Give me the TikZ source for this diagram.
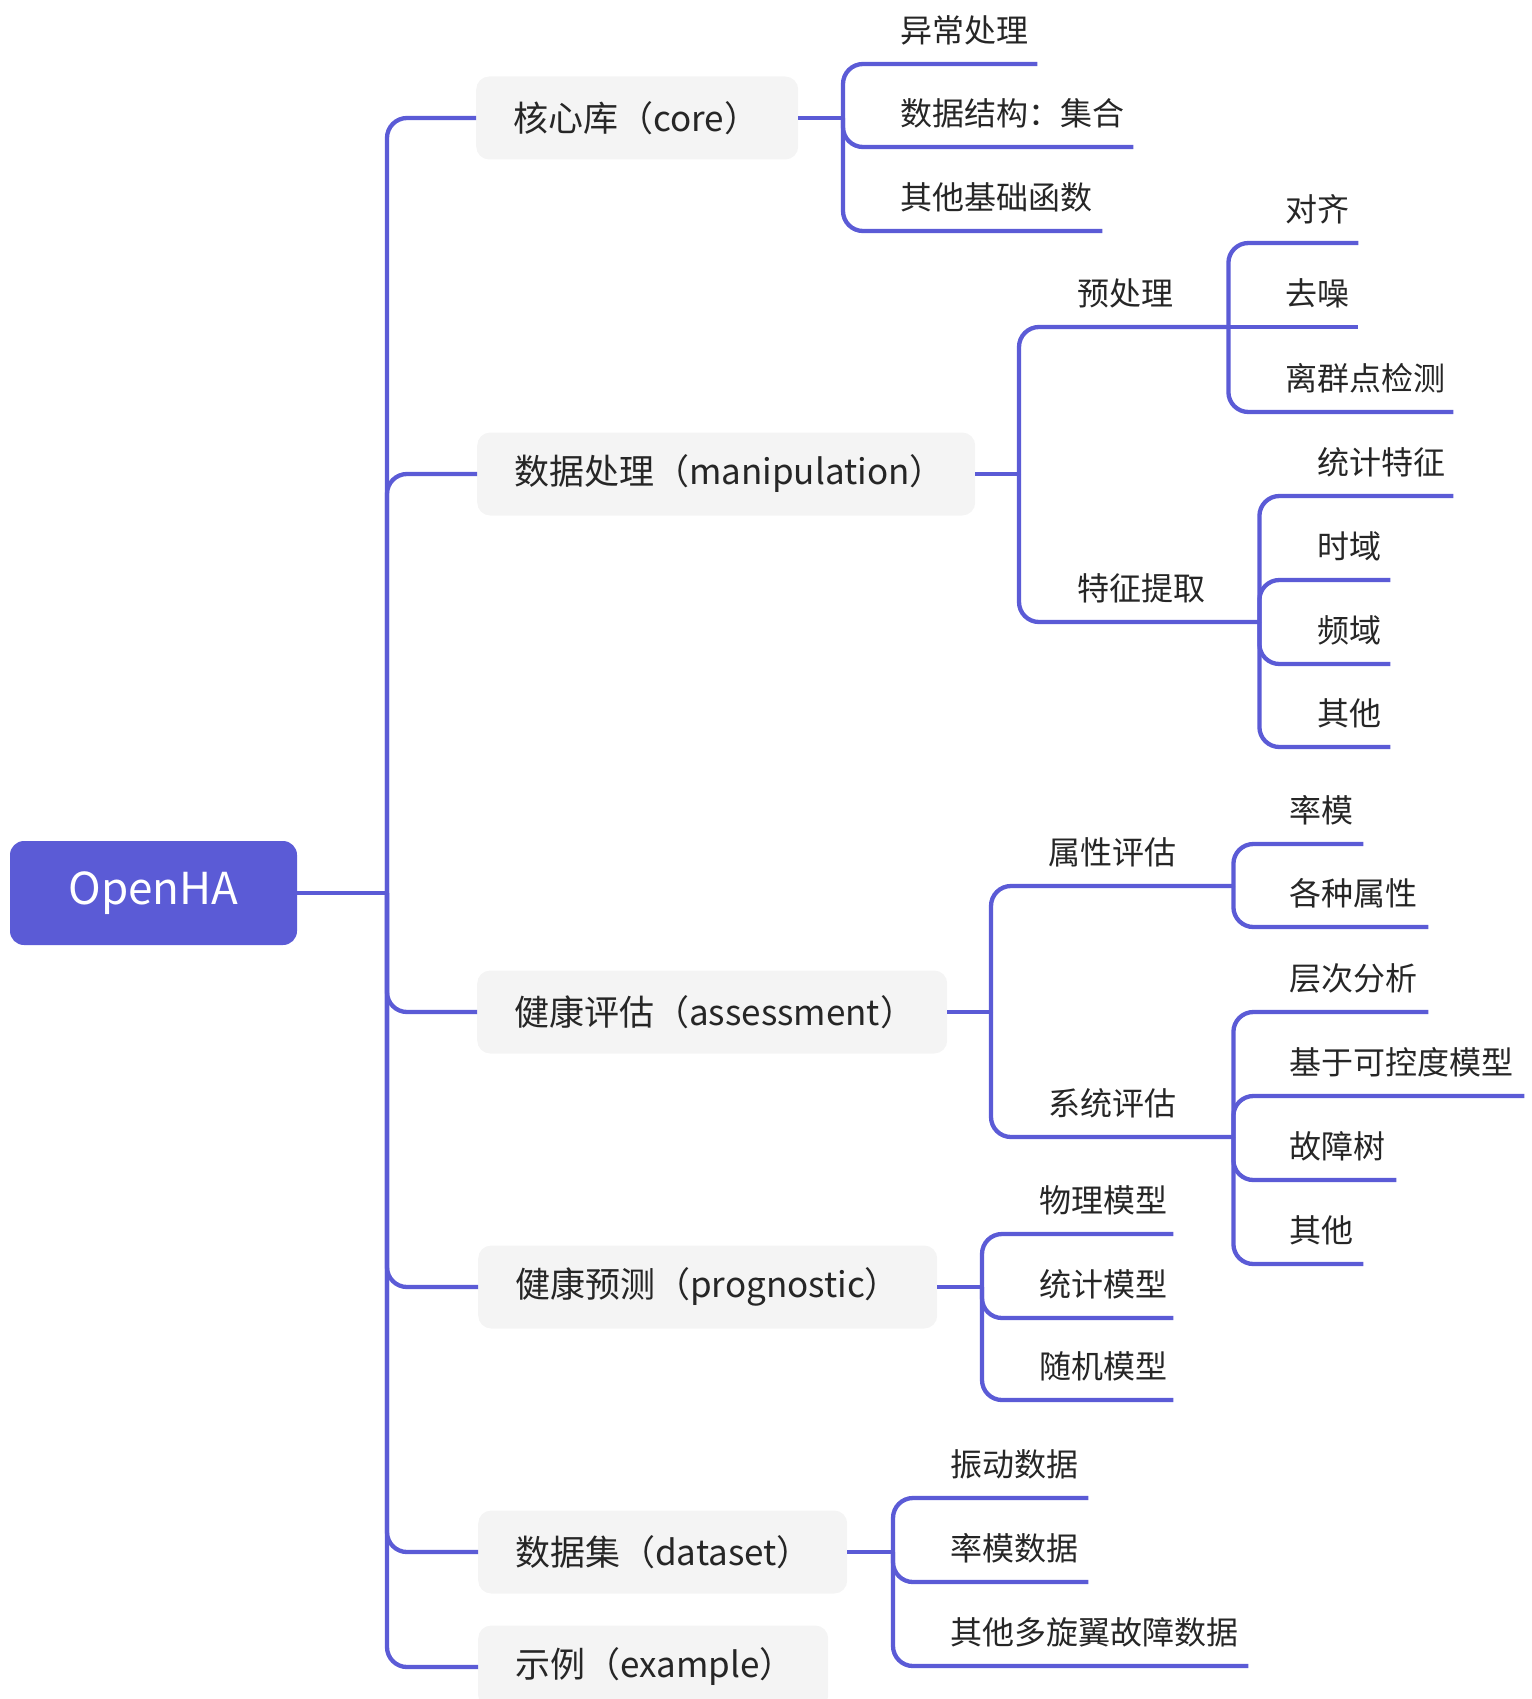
\documentclass[tikz,border=0pt]{standalone}
\usepackage{fontspec}
\setmainfont{Noto Sans CJK SC}
\definecolor{linec}{HTML}{5B5BD6}
\definecolor{boxc}{HTML}{F4F4F4}
\definecolor{textc}{HTML}{262626}
\begin{document}
\begin{tikzpicture}[x=1pt,y=-1pt,
  link/.style={draw=linec, line width=4.3pt, rounded corners=20pt},
  rootbox/.style={fill=linec, text=white, rounded corners=14pt, minimum width=287pt, minimum height=104pt, inner sep=0pt, font=\fontsize{44}{53}\selectfont},
  branch/.style={fill=boxc, text=textc, rounded corners=13pt, minimum height=83pt, anchor=west, inner xsep=37pt, inner ysep=0pt, align=left, font=\fontsize{35}{42}\selectfont},
  leaf/.style={text=textc, inner sep=0pt, text depth=21pt, anchor=south west, align=left, font=\fontsize{32}{38}\selectfont}]
\useasboundingbox (0,0) rectangle (1531,1699);
\clip (0,0) rectangle (1531,1699);

% root
\node[rootbox] (root) at (153.5,893) {OpenHA};
\coordinate (J0) at (387,893);

% branches
\node[branch, text width=248pt] (core) at (476,118) {核心库（core）};
\node[branch, text width=424pt] (manip) at (477,474) {数据处理（manipulation）};
\node[branch, text width=396pt] (assess) at (477,1012) {健康评估（assessment）};
\node[branch, text width=385pt] (prog) at (478,1287) {健康预测（prognostic）};
\node[branch, text width=295pt] (data) at (478,1552) {数据集（dataset）};
\node[branch, text width=276pt] (exa) at (478,1667) {示例（example）};

% junctions
\coordinate (J1) at (843,118);
\coordinate (J2) at (1019,474);
\coordinate (J3) at (991,1012);
\coordinate (J4) at (982,1287);
\coordinate (J5) at (893,1552);

% core leaves
\node[leaf, text width=137pt] (c1) at (900,64) {异常处理};
\node[leaf, text width=233pt] (c2) at (900,147) {数据结构：集合};
\node[leaf, text width=202pt] (c3) at (900,231) {其他基础函数};

% manipulation
\node[leaf, text width=151pt] (pre) at (1077,327) {预处理};
\node[leaf, text width=182pt] (fe) at (1077,622) {特征提取};
\node[leaf, text width=73pt] (p1) at (1285,243) {对齐};
\node[leaf, text width=73pt] (p2) at (1285,327) {去噪};
\node[leaf, text width=168pt] (p3) at (1285,412) {离群点检测};
\node[leaf, text width=136pt] (f1) at (1317,496) {统计特征};
\node[leaf, text width=73pt] (f2) at (1317,580) {时域};
\node[leaf, text width=73pt] (f3) at (1317,664) {频域};
\node[leaf, text width=73pt] (f4) at (1317,747) {其他};

% assessment
\node[leaf, text width=185pt] (attr) at (1048,886) {属性评估};
\node[leaf, text width=185pt] (sys) at (1048,1137) {系统评估};
\node[leaf, text width=74pt] (a1) at (1289,844) {率模};
\node[leaf, text width=139pt] (a2) at (1289,927) {各种属性};
\node[leaf, text width=139pt] (s1) at (1289,1012) {层次分析};
\node[leaf, text width=235pt] (s2) at (1289,1096) {基于可控度模型};
\node[leaf, text width=107pt] (s3) at (1289,1180) {故障树};
\node[leaf, text width=74pt] (s4) at (1289,1264) {其他};

% prognostic
\node[leaf, text width=134pt] (g1) at (1039,1234) {物理模型};
\node[leaf, text width=134pt] (g2) at (1039,1318) {统计模型};
\node[leaf, text width=134pt] (g3) at (1039,1400) {随机模型};

% dataset
\node[leaf, text width=138pt] (d1) at (950,1498) {振动数据};
\node[leaf, text width=138pt] (d2) at (950,1582) {率模数据};
\node[leaf, text width=298pt] (d3) at (950,1666) {其他多旋翼故障数据};

% trunk
\draw[link] (root.east) -- (J0);
\foreach \b in {core,manip,assess,prog,data,exa} \draw[link] (J0) |- (\b.west);

% core
\draw[link] (core.east) -- (J1);
\foreach \l in {c1,c2,c3} \draw[link] (J1) |- (\l.south east);

% manipulation
\draw[link] (manip.east) -- (J2);
\draw[link] (J2) |- (pre.south east);
\draw[link] (J2) |- (fe.south east);
\draw[link] (pre.south east) |- (p1.south east);
\draw[link] (pre.south east) -- (p2.south east);
\draw[link] (pre.south east) |- (p3.south east);
\foreach \l in {f1,f2,f3,f4} \draw[link] (fe.south east) |- (\l.south east);

% assessment
\draw[link] (assess.east) -- (J3);
\draw[link] (J3) |- (attr.south east);
\draw[link] (J3) |- (sys.south east);
\foreach \l in {a1,a2} \draw[link] (attr.south east) |- (\l.south east);
\foreach \l in {s1,s2,s3,s4} \draw[link] (sys.south east) |- (\l.south east);

% prognostic
\draw[link] (prog.east) -- (J4);
\foreach \l in {g1,g2,g3} \draw[link] (J4) |- (\l.south east);

% dataset
\draw[link] (data.east) -- (J5);
\foreach \l in {d1,d2,d3} \draw[link] (J5) |- (\l.south east);
\end{tikzpicture}
\end{document}
